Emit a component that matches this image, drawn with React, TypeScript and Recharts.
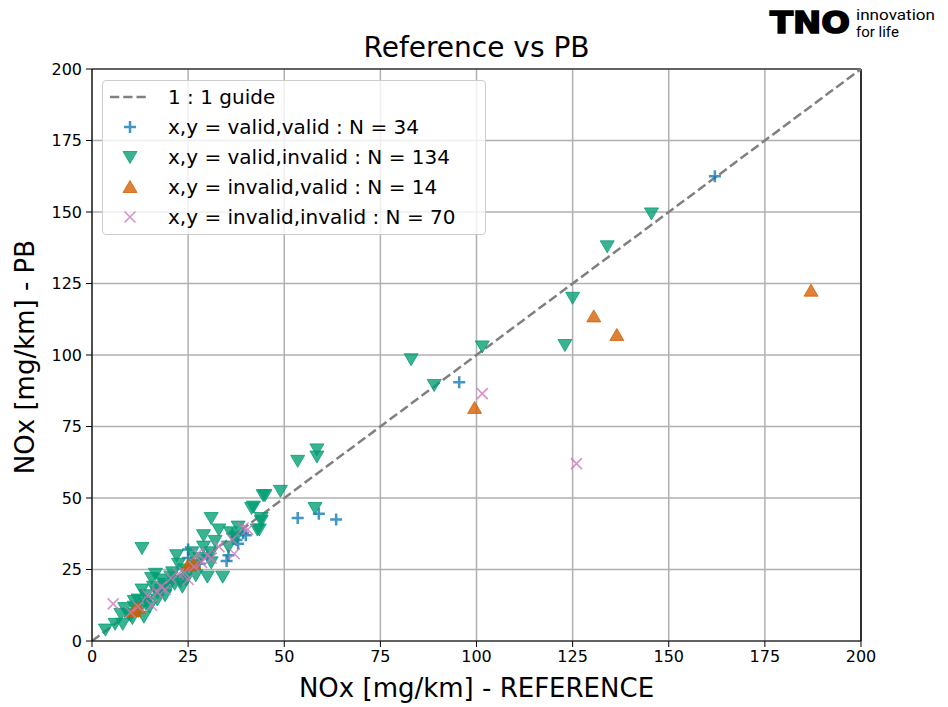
import React from 'react';
import { ScatterChart, Scatter, XAxis, YAxis, CartesianGrid, ReferenceLine } from 'recharts';

const TICKS = [0, 25, 50, 75, 100, 125, 150, 175, 200];

const BLUE = '#0173B2';
const GREEN = '#029E73';
const ORANGE = '#D55E00';
const PINK = '#CC78BC';

// x,y = valid,valid
const validValid: [number, number][] = [
  [35, 28], [35.5, 30], [36.5, 37.5], [40, 37], [38, 34], [25, 32], [25, 29],
  [39.3, 37.8], [37.6, 35.3], [20, 21], [28, 27], [30, 30], [14, 14],
  [53.5, 43], [59, 44.5], [63.5, 42.5], [95.5, 90.5], [162, 162.5],
];

// x,y = valid,invalid
const validInvalid: [number, number][] = [
  [3.5, 4], [13, 32.5], [31, 43], [29, 37], [33, 39], [41.5, 46.5], [45, 51], [49, 52.5],
  [44, 42], [43, 39], [36, 38], [37.5, 36.5], [35.5, 33], [31, 31], [31, 27.5], [30, 22.5],
  [34, 22.5], [27, 26.5], [22, 30], [22.5, 27], [16.5, 23.5], [15.5, 22], [18, 21.5],
  [20, 19], [20.5, 22.5], [23.5, 19], [19, 16], [13, 18], [14, 16], [12, 14.5], [11, 12],
  [8.5, 11.5], [7.5, 9.5], [9.5, 9.5], [8, 6], [10.5, 8], [13.5, 8.5], [12, 10.5], [15, 12],
  [17, 14.5], [21.5, 20], [24.5, 21.5], [27, 23], [26, 31], [28, 29], [24, 25], [19, 20],
  [17, 17], [10, 9], [14, 13], [32, 35], [38, 40], [25, 24], [21, 24], [16, 19], [11, 14],
  [6, 6], [18, 18], [23, 21], [29, 33],
  [58.5, 67], [58.5, 64.5], [53.5, 63], [44.5, 51], [42, 47], [58, 46.5], [44, 43], [43.5, 39],
  [83, 98.5], [89, 89.5], [101.5, 103], [123, 103.5], [125, 120], [134, 138], [145.5, 149.5],
];

// x,y = invalid,valid
const invalidValid: [number, number][] = [
  [11, 10.5], [12, 11.5], [25, 26.5], [26.5, 27], [99.5, 81.5], [130.5, 113.5], [136.5, 107], [187, 122.5],
];

// x,y = invalid,invalid
const invalidInvalid: [number, number][] = [
  [5.5, 13], [40.5, 39], [37, 30.5], [36.5, 35.5], [27.5, 30.5], [28.5, 27.5], [26.5, 26],
  [25, 21.5], [20.5, 22], [18, 19], [14.5, 16], [15.5, 12.5], [22.5, 23.5], [39.3, 39.5],
  [30, 30], [33, 33], [12, 12], [17, 17], [24, 24], [19, 18], [10, 10], [31, 29],
  [101.5, 86.5], [126, 62],
];

const toPts = (arr: [number, number][]) => arr.map(([x, y]) => ({ x, y }));

const plusPath = (cx: number, cy: number) => `M${cx - 6},${cy}H${cx + 6}M${cx},${cy - 6}V${cy + 6}`;
const downPath = (cx: number, cy: number) => `M${cx - 7},${cy - 5.5}L${cx + 7},${cy - 5.5}L${cx},${cy + 6.5}Z`;
const upPath = (cx: number, cy: number) => `M${cx - 7},${cy + 5.5}L${cx + 7},${cy + 5.5}L${cx},${cy - 6.5}Z`;
const crossPath = (cx: number, cy: number) =>
  `M${cx - 5.5},${cy - 5.5}L${cx + 5.5},${cy + 5.5}M${cx + 5.5},${cy - 5.5}L${cx - 5.5},${cy + 5.5}`;

const PlusShape = ({ cx, cy }: any) => (
  <path d={plusPath(cx, cy)} stroke={BLUE} strokeOpacity={0.75} strokeWidth={2.5} fill="none" />
);
const DownShape = ({ cx, cy }: any) => (
  <path d={downPath(cx, cy)} fill={GREEN} fillOpacity={0.78} stroke={GREEN} strokeOpacity={0.78} strokeWidth={1} />
);
const UpShape = ({ cx, cy }: any) => (
  <path d={upPath(cx, cy)} fill={ORANGE} fillOpacity={0.78} stroke={ORANGE} strokeOpacity={0.78} strokeWidth={1} />
);
const CrossShape = ({ cx, cy }: any) => (
  <path d={crossPath(cx, cy)} stroke={PINK} strokeOpacity={0.8} strokeWidth={1.6} fill="none" />
);

const legendRows = [
  { label: '1 : 1 guide', icon: 'line' },
  { label: 'x,y = valid,valid : N = 34', icon: 'plus' },
  { label: 'x,y = valid,invalid : N = 134', icon: 'down' },
  { label: 'x,y = invalid,valid : N = 14', icon: 'up' },
  { label: 'x,y = invalid,invalid : N = 70', icon: 'cross' },
];

const LegendBox = () => (
  <div
    style={{
      position: 'absolute',
      left: 102,
      top: 80,
      width: 384,
      height: 155,
      background: 'rgba(255,255,255,0.8)',
      border: '1px solid #cccccc',
      borderRadius: 4,
      fontSize: 20,
      color: '#000',
      paddingTop: 1,
      boxSizing: 'border-box',
    }}
  >
    {legendRows.map((r) => (
      <div key={r.label} style={{ display: 'flex', alignItems: 'center', height: 30 }}>
        <svg width={65} height={20} style={{ flex: 'none' }}>
          {r.icon === 'line' && (
            <line x1={7} y1={10} x2={45} y2={10} stroke="#808080" strokeWidth={2.5} strokeDasharray="9.25 4" />
          )}
          {r.icon === 'plus' && <PlusShape cx={27} cy={10} />}
          {r.icon === 'down' && <DownShape cx={27} cy={10} />}
          {r.icon === 'up' && <UpShape cx={27} cy={10} />}
          {r.icon === 'cross' && <CrossShape cx={27} cy={10} />}
        </svg>
        <span style={{ whiteSpace: 'nowrap' }}>{r.label}</span>
      </div>
    ))}
  </div>
);

const tickStyle = { fill: '#000', fontSize: 16, fontFamily: 'DejaVu Sans' };

export default function App() {
  return (
    <div style={{ position: 'absolute', left: 0, top: 0, width: 948, height: 707, background: '#fff', fontFamily: 'DejaVu Sans' }}>
      <ScatterChart width={948} height={707} margin={{ top: 69, right: 87, bottom: 0, left: 0 }}>
        <CartesianGrid stroke="#b0b0b0" strokeWidth={1.5} />
        <XAxis
          type="number"
          dataKey="x"
          domain={[0, 200]}
          ticks={TICKS}
          height={66}
          tick={tickStyle}
          tickSize={6}
          tickMargin={4}
          axisLine={{ stroke: '#000', strokeWidth: 1.2 }}
          tickLine={{ stroke: '#000' }}
        />
        <YAxis
          type="number"
          dataKey="y"
          domain={[0, 200]}
          ticks={TICKS}
          width={92}
          tick={tickStyle}
          tickSize={6}
          tickMargin={4}
          axisLine={{ stroke: '#000', strokeWidth: 1.2 }}
          tickLine={{ stroke: '#000' }}
        />
        <ReferenceLine y={200} stroke="#000" strokeWidth={1.2} />
        <ReferenceLine x={200} stroke="#000" strokeWidth={1.5} />
        <Scatter data={toPts(validValid)} shape={<PlusShape />} isAnimationActive={false} />
        <Scatter data={toPts(validInvalid)} shape={<DownShape />} isAnimationActive={false} />
        <Scatter data={toPts(invalidValid)} shape={<UpShape />} isAnimationActive={false} />
        <Scatter data={toPts(invalidInvalid)} shape={<CrossShape />} isAnimationActive={false} />
        <ReferenceLine
          segment={[{ x: 0, y: 0 }, { x: 200, y: 200 }]}
          stroke="#808080"
          strokeWidth={2.5}
          strokeDasharray="9.25 4"
        />
      </ScatterChart>

      <LegendBox />

      <div style={{ position: 'absolute', left: 92, width: 769, top: 31, textAlign: 'center', fontSize: 28, lineHeight: '34px' }}>
        Reference vs PB
      </div>
      <div style={{ position: 'absolute', left: 92, width: 769, top: 673, textAlign: 'center', fontSize: 26, lineHeight: '30px' }}>
        NOx [mg/km] - REFERENCE
      </div>
      <div
        style={{
          position: 'absolute',
          left: 25 - 150,
          top: 357 - 15,
          width: 300,
          textAlign: 'center',
          fontSize: 26,
          lineHeight: '30px',
          transform: 'rotate(-90deg)',
        }}
      >
        NOx [mg/km] - PB
      </div>

      <svg style={{ position: 'absolute', left: 766, top: 4 }} width={180} height={40}>
        <text
          x={4}
          y={29}
          fontFamily="DejaVu Sans"
          fontWeight="bold"
          fontSize={30}
          textLength={80}
          lengthAdjust="spacingAndGlyphs"
          stroke="#000"
          strokeWidth={1.6}
          fill="#000"
        >
          TNO
        </text>
        <text x={90} y={16} fontFamily="Roboto" fontSize={15} textLength={79} lengthAdjust="spacingAndGlyphs" fill="#000">
          innovation
        </text>
        <text x={90} y={33} fontFamily="Roboto" fontSize={15} fill="#000">
          for life
        </text>
      </svg>
    </div>
  );
}
